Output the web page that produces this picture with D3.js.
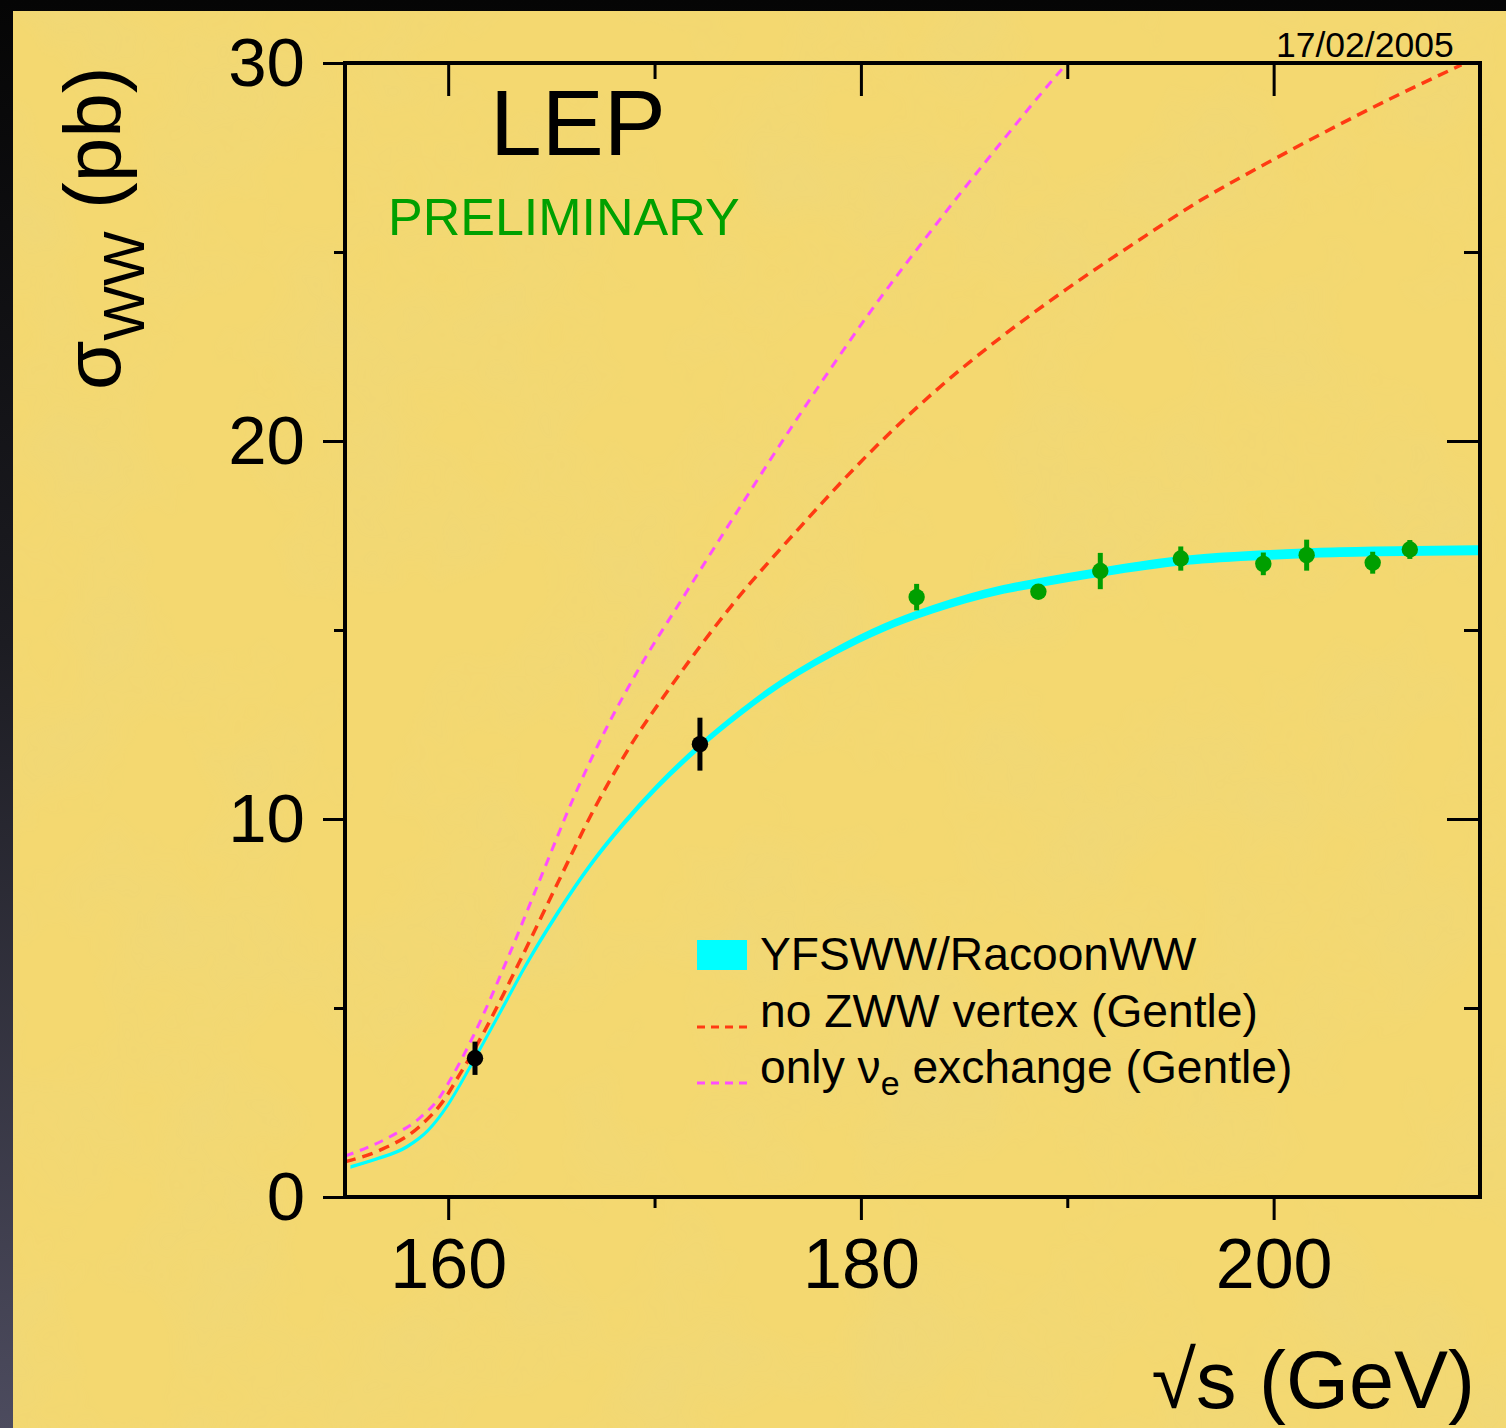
<!DOCTYPE html>
<html>
<head>
<meta charset="utf-8">
<script src="https://cdn.jsdelivr.net/npm/d3@7"></script>
<style>
html, body { margin: 0; padding: 0; background: #000; }
svg { display: block; }
text { font-family: "Liberation Sans", Arial, Helvetica, sans-serif; }
</style>
</head>
<body>
<script>
var xTicks = [160, 180, 200];
var xMinorTicks = [170, 190];
var yTicks = [0, 10, 20, 30];
var yMinorTicks = [5, 15, 25];

// YFSWW/RacoonWW band (centre + half width, pb)
var yfswwE     = [155.3, 156.5, 158.0, 159.0, 160.0, 161.0, 161.7, 162.8, 163.7, 165.3, 166.9, 168.5, 170.1, 172.2, 174.2, 175.5, 178.7, 181.1, 183.5, 186.8, 188.6, 191.6, 195.5, 199.5, 202.0, 205.0, 210.0];
var yfswwSigma = [0.80, 1.00, 1.33, 1.75, 2.45, 3.38, 4.07, 5.17, 6.07, 7.51, 8.79, 9.88, 10.84, 11.93, 12.83, 13.36, 14.42, 15.06, 15.55, 16.06, 16.25, 16.53, 16.83, 16.98, 17.04, 17.08, 17.11];
var yfswwBand  = [0.025, 0.025, 0.03, 0.03, 0.035, 0.04, 0.04, 0.045, 0.045, 0.05, 0.05, 0.055, 0.06, 0.065, 0.07, 0.075, 0.08, 0.085, 0.09, 0.095, 0.10, 0.10, 0.105, 0.11, 0.11, 0.11, 0.11];

// no ZWW vertex (Gentle)
var noZwwE     = [155.0, 156.7, 158.6, 159.9, 160.4, 160.9, 161.7, 163.5, 165.3, 167.05, 168.8, 170.9, 173.7, 177.1, 180.3, 183.6, 186.8, 190.0, 193.3, 196.5, 199.7, 203.0, 206.2, 209.1];
var noZwwSigma = [0.93, 1.24, 1.86, 2.65, 3.10, 3.55, 4.33, 6.27, 8.30, 10.24, 11.91, 13.59, 15.62, 17.75, 19.62, 21.32, 22.75, 24.03, 25.25, 26.38, 27.36, 28.32, 29.20, 29.95];

// only nu_e exchange (Gentle)
var nueE     = [155.0, 157.2, 158.6, 159.6, 160.1, 161.2, 162.85, 164.5, 166.1, 167.7, 169.3, 171.3, 173.85, 177.1, 180.3, 183.6, 186.8, 189.6, 190.0];
var nueSigma = [1.08, 1.60, 2.08, 2.65, 3.10, 4.24, 6.27, 8.47, 10.59, 12.44, 14.03, 15.79, 18.0, 20.75, 23.3, 25.7, 27.9, 29.75, 30.0];

// measurements: threshold runs (black) and higher energies (green)
var thrE     = [161.3, 172.2];
var thrSigma = [3.67, 11.98];
var thrErr   = [0.44, 0.70];

var lepE     = [182.7, 188.6, 191.6, 195.5, 199.5, 201.6, 204.8, 206.6];
var lepSigma = [15.87, 16.01, 16.56, 16.89, 16.75, 16.98, 16.78, 17.13];
var lepErr   = [0.35, 0.12, 0.48, 0.32, 0.30, 0.41, 0.29, 0.25];

var legendLabels = ["YFSWW/RacoonWW", "no ZWW vertex (Gentle)", "only \u03bd", "e", " exchange (Gentle)"];

// --- layout ---
var W = 1506, H = 1428;
var plot = { left: 345, right: 1480, top: 63, bottom: 1197 };

var svg = d3.select("body").append("svg")
    .attr("width", W)
    .attr("height", H);

var defs = svg.append("defs");

var grad = defs.append("linearGradient")
    .attr("id", "frameGrad")
    .attr("x1", 0).attr("y1", 0).attr("x2", 0).attr("y2", 1);
grad.append("stop").attr("offset", "0%").attr("stop-color", "#050505");
grad.append("stop").attr("offset", "45%").attr("stop-color", "#1c1c22");
grad.append("stop").attr("offset", "100%").attr("stop-color", "#4c4b5e");

var paper = defs.append("filter")
    .attr("id", "paper")
    .attr("x", 0).attr("y", 0).attr("width", "100%").attr("height", "100%");
paper.append("feTurbulence")
    .attr("type", "fractalNoise")
    .attr("baseFrequency", "0.007")
    .attr("numOctaves", 4)
    .attr("seed", 7);
paper.append("feColorMatrix")
    .attr("type", "matrix")
    .attr("values", "0 0 0 0 0.80  0 0 0 0 0.68  0 0 0 0 0.25  0 0 0 1.6 -0.62");

defs.append("clipPath").attr("id", "plotClip")
  .append("rect")
    .attr("x", plot.left)
    .attr("y", plot.top)
    .attr("width", plot.right - plot.left)
    .attr("height", plot.bottom - plot.top);

// background
svg.append("rect").attr("width", W).attr("height", H).attr("fill", "url(#frameGrad)");
svg.append("rect")
    .attr("x", 13).attr("y", 11)
    .attr("width", W - 13).attr("height", H - 11)
    .attr("fill", "#f4d870");
svg.append("rect")
    .attr("x", 13).attr("y", 11)
    .attr("width", W - 13).attr("height", H - 11)
    .attr("filter", "url(#paper)")
    .attr("opacity", 0.35);

var x = d3.scaleLinear().domain([155, 210]).range([plot.left, plot.right]);
var y = d3.scaleLinear().domain([0, 30]).range([plot.bottom, plot.top]);

// --- curves ---
var curves = svg.append("g").attr("clip-path", "url(#plotClip)");

var bandData = yfswwE.map(function(e, i) {
    return { e: e, lo: yfswwSigma[i] - yfswwBand[i], hi: yfswwSigma[i] + yfswwBand[i] };
});

curves.append("path")
    .datum(bandData)
    .attr("fill", "#00ffff")
    .attr("stroke", "#00ffff")
    .attr("stroke-width", 1.5)
    .attr("d", d3.area()
        .curve(d3.curveMonotoneX)
        .x(function(d) { return x(d.e); })
        .y0(function(d) { return y(d.lo); })
        .y1(function(d) { return y(d.hi); }));

var line = d3.line()
    .curve(d3.curveMonotoneX)
    .x(function(d) { return x(d[0]); })
    .y(function(d) { return y(d[1]); });

curves.append("path")
    .datum(d3.zip(noZwwE, noZwwSigma))
    .attr("fill", "none")
    .attr("stroke", "#ff3a12")
    .attr("stroke-width", 3.5)
    .attr("stroke-dasharray", "11,7")
    .attr("d", line);

curves.append("path")
    .datum(d3.zip(nueE, nueSigma))
    .attr("fill", "none")
    .attr("stroke", "#ff4dff")
    .attr("stroke-width", 3)
    .attr("stroke-dasharray", "9,7")
    .attr("d", line);

// --- measurements ---
function drawPoints(es, sig, err, colour) {
    var g = svg.append("g");
    var pts = d3.zip(es, sig, err);
    g.selectAll("line.err")
        .data(pts)
        .join("line")
        .attr("class", "err")
        .attr("x1", function(d) { return x(d[0]); })
        .attr("x2", function(d) { return x(d[0]); })
        .attr("y1", function(d) { return y(d[1] - d[2]); })
        .attr("y2", function(d) { return y(d[1] + d[2]); })
        .attr("stroke", colour)
        .attr("stroke-width", 5);
    g.selectAll("circle")
        .data(pts)
        .join("circle")
        .attr("cx", function(d) { return x(d[0]); })
        .attr("cy", function(d) { return y(d[1]); })
        .attr("r", 8.2)
        .attr("fill", colour);
}
drawPoints(thrE, thrSigma, thrErr, "#000");
drawPoints(lepE, lepSigma, lepErr, "#009f00");

// --- frame and ticks ---
var axes = svg.append("g");

function tickAxis(axis, transform) {
    var g = axes.append("g").attr("transform", transform).call(axis);
    g.select(".domain").remove();
    g.selectAll(".tick line").attr("stroke", "#000").attr("stroke-width", 3);
    return g;
}

// bottom: outward ticks with labels
var gb = tickAxis(d3.axisBottom(x).tickValues(xTicks).tickSize(23).tickPadding(18)
    .tickFormat(d3.format("d")), "translate(0," + plot.bottom + ")");
gb.selectAll(".tick text").attr("font-size", 70).attr("fill", "#000")
    .attr("font-family", "Liberation Sans, Arial, sans-serif");
tickAxis(d3.axisBottom(x).tickValues(xMinorTicks).tickSize(11).tickFormat(""),
    "translate(0," + plot.bottom + ")");

// top: inward ticks
tickAxis(d3.axisBottom(x).tickValues(xTicks).tickSize(33).tickFormat(""),
    "translate(0," + plot.top + ")");
tickAxis(d3.axisBottom(x).tickValues(xMinorTicks).tickSize(16).tickFormat(""),
    "translate(0," + plot.top + ")");

// left: outward ticks with labels
var gl = tickAxis(d3.axisLeft(y).tickValues(yTicks).tickSize(22).tickPadding(18)
    .tickFormat(d3.format("d")), "translate(" + plot.left + ",0)");
gl.selectAll(".tick text").attr("font-size", 69).attr("fill", "#000")
    .attr("font-family", "Liberation Sans, Arial, sans-serif");
tickAxis(d3.axisLeft(y).tickValues(yMinorTicks).tickSize(11).tickFormat(""),
    "translate(" + plot.left + ",0)");

// right: inward ticks
tickAxis(d3.axisRight(y).tickValues(yTicks).tickSize(-33).tickFormat(""),
    "translate(" + plot.right + ",0)");
tickAxis(d3.axisRight(y).tickValues(yMinorTicks).tickSize(-16).tickFormat(""),
    "translate(" + plot.right + ",0)");

axes.append("rect")
    .attr("x", plot.left)
    .attr("y", plot.top)
    .attr("width", plot.right - plot.left)
    .attr("height", plot.bottom - plot.top)
    .attr("fill", "none")
    .attr("stroke", "#000")
    .attr("stroke-width", 4);

// --- labels ---
svg.append("text")
    .attr("x", 1475).attr("y", 1408)
    .attr("text-anchor", "end")
    .attr("font-size", 81)
    .text("\u221as (GeV)");

var yt = svg.append("text")
    .attr("transform", "translate(120,390) rotate(-90)")
    .attr("font-size", 80);
yt.append("tspan").text("\u03c3");
yt.append("tspan").attr("font-size", 58).attr("dy", 24).text("WW");
yt.append("tspan").attr("dy", -24).text(" (pb)");

svg.append("text")
    .attr("x", 1276).attr("y", 57)
    .attr("font-size", 35.5)
    .text("17/02/2005");

svg.append("text")
    .attr("x", 490).attr("y", 155)
    .attr("font-size", 93)
    .text("LEP");

svg.append("text")
    .attr("x", 388).attr("y", 235)
    .attr("font-size", 52)
    .attr("fill", "#00a000")
    .text("PRELIMINARY");

// --- legend ---
var leg = svg.append("g").attr("font-size", 46.2);
leg.append("rect")
    .attr("x", 697).attr("y", 940).attr("width", 50).attr("height", 30)
    .attr("fill", "#00ffff");
leg.append("text").attr("x", 760).attr("y", 970).text(legendLabels[0]);

leg.append("line")
    .attr("x1", 697).attr("x2", 750).attr("y1", 1027).attr("y2", 1027)
    .attr("stroke", "#ff3a12").attr("stroke-width", 3)
    .attr("stroke-dasharray", "8,6");
leg.append("text").attr("x", 760).attr("y", 1027).text(legendLabels[1]);

leg.append("line")
    .attr("x1", 697).attr("x2", 750).attr("y1", 1083).attr("y2", 1083)
    .attr("stroke", "#ff4dff").attr("stroke-width", 3)
    .attr("stroke-dasharray", "8,6");
var t3 = leg.append("text").attr("x", 760).attr("y", 1083);
t3.append("tspan").text(legendLabels[2]);
t3.append("tspan").attr("font-size", 34).attr("dy", 12).text(legendLabels[3]);
t3.append("tspan").attr("dy", -12).text(legendLabels[4]);
</script>
</body>
</html>
